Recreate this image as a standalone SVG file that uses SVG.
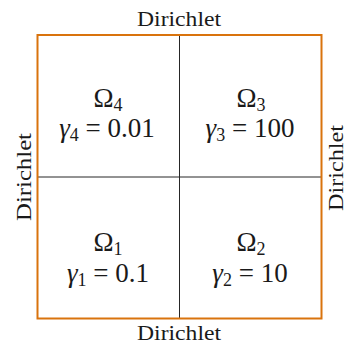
<svg xmlns="http://www.w3.org/2000/svg" width="344" height="345" viewBox="0 0 344 345">
<style>
.lbl{font-family:"Liberation Serif","DejaVu Serif","Times New Roman",serif;font-size:21px;fill:#1a1a1a;text-anchor:middle}
.m{font-family:"Liberation Serif","DejaVu Serif","Times New Roman",serif;font-size:27px;fill:#1a1a1a;text-anchor:middle}
.sub{font-size:18px}
.it{font-style:italic}
.div{stroke:#262626;stroke-width:1;fill:none}
.border{stroke:#d9730d;stroke-width:2;fill:none}
</style>
<rect width="344" height="345" fill="#ffffff"/>
<g id="connectors">
<line class="div" x1="179.5" y1="35" x2="179.5" y2="318.5"/>
<line class="div" x1="37" y1="177" x2="321.5" y2="177"/>
</g>
<g id="border">
<rect class="border" x="37.5" y="35" width="284" height="283.5"/>
</g>
<g id="omega4">
<text class="m" x="108" y="106.5">Ω<tspan class="sub" dy="4">4</tspan></text>
<text class="m" x="107" y="137"><tspan class="it">γ</tspan><tspan class="sub" dy="4">4</tspan><tspan dy="-4"> = 0.01</tspan></text>
</g>
<g id="omega3">
<text class="m" x="251" y="106.5">Ω<tspan class="sub" dy="4">3</tspan></text>
<text class="m" x="250" y="137"><tspan class="it">γ</tspan><tspan class="sub" dy="4">3</tspan><tspan dy="-4"> = 100</tspan></text>
</g>
<g id="omega1">
<text class="m" x="108" y="250.5">Ω<tspan class="sub" dy="4">1</tspan></text>
<text class="m" x="108" y="281.5"><tspan class="it">γ</tspan><tspan class="sub" dy="4">1</tspan><tspan dy="-4"> = 0.1</tspan></text>
</g>
<g id="omega2">
<text class="m" x="251" y="250.5">Ω<tspan class="sub" dy="4">2</tspan></text>
<text class="m" x="250" y="281.5"><tspan class="it">γ</tspan><tspan class="sub" dy="4">2</tspan><tspan dy="-4"> = 10</tspan></text>
</g>
<g id="labels">
<text class="lbl" x="179" y="25.5" textLength="84" lengthAdjust="spacingAndGlyphs">Dirichlet</text>
<text class="lbl" x="179" y="340" textLength="84" lengthAdjust="spacingAndGlyphs">Dirichlet</text>
<text class="lbl" transform="translate(31,177) rotate(-90)" textLength="88" lengthAdjust="spacingAndGlyphs">Dirichlet</text>
<text class="lbl" transform="translate(343,168) rotate(-90)" textLength="86" lengthAdjust="spacingAndGlyphs">Dirichlet</text>
</g>
</svg>
